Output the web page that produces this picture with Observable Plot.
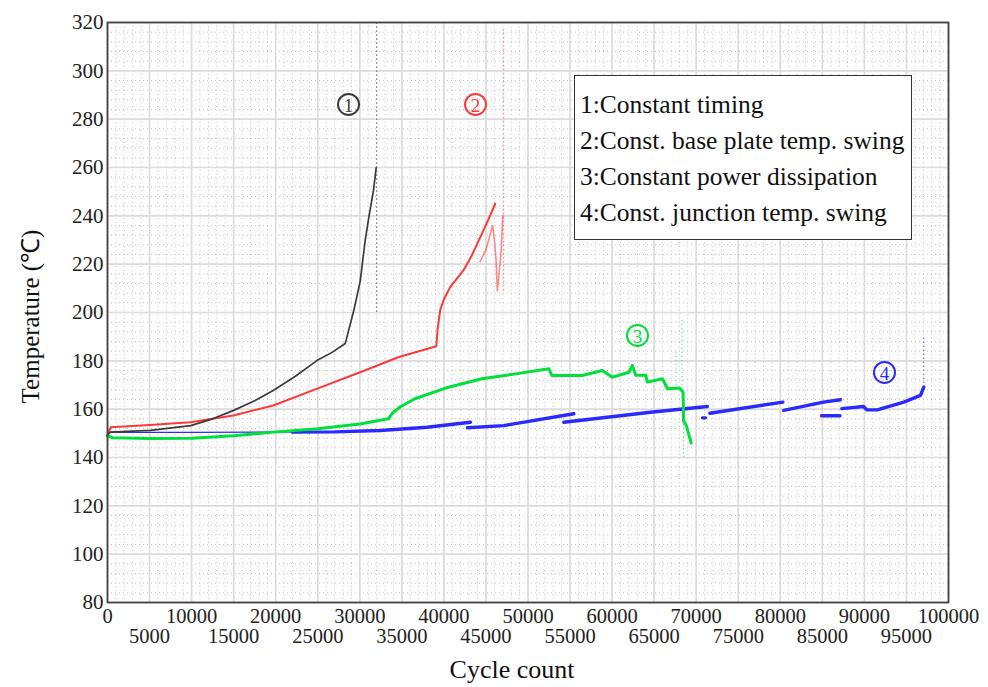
<!DOCTYPE html>
<html>
<head>
<meta charset="utf-8">
<script src="https://cdn.jsdelivr.net/npm/d3@7"></script>
<script src="https://cdn.jsdelivr.net/npm/@observablehq/plot@0.6"></script>
<style>
  html, body { margin: 0; padding: 0; background: #fff; }
  #wrap { position: relative; width: 988px; height: 687px; font-family: "Liberation Serif", "Times New Roman", serif; }
  #legend { position: absolute; left: 574px; top: 75px; width: 338px; height: 165px; box-sizing: border-box;
            border: 1.5px solid #333; background: #fff; font-size: 25.5px; color: #111; }
  #legend div { position: absolute; left: 5px; white-space: nowrap; line-height: 28px; }
</style>
</head>
<body>
<div id="wrap">
  <div id="chart"></div>
  <div id="legend"></div>
</div>
<script>
// ---- data ----
// series 1: constant timing  [cycle, temperature]
const series1 = [[0,149.5],[360,150.5],[5100,151.2],[9900,153.2],[12500,156],[15000,159.5],[17500,163.5],[19700,167.7],[22300,173.5],[24900,180.1],[26700,183.5],[28270,187.2],[28470,189.8],[29300,201],[30050,213],[30640,229.8],[31150,241],[31630,250.5],[31950,260]];
// series 2: const. base plate temp. swing
const series2 = [[0,149],[360,152.5],[5000,153.4],[9860,154.6],[14960,157.4],[19710,161.5],[24940,168.5],[30050,175.3],[34560,181.5],[39100,186],[39250,193],[39550,200.8],[40000,205.5],[40740,210.5],[42320,217.4],[43300,223.5],[44330,231.2],[45300,238.5],[46100,245]];
const series2Tail = [[44300,221],[45000,226],[45800,236],[46000,230],[46200,222],[46350,209],[46500,214],[46800,225],[47000,240]];
// series 3: constant power dissipation
const series3 = [[0,149],[600,148.2],[5000,147.9],[10000,148],[15000,149],[19700,150.5],[25000,151.9],[30000,153.9],[33400,156],[33850,158.3],[34840,161],[36550,164.3],[40540,169.1],[44510,172.6],[48490,174.6],[52470,176.7],[52860,173.9],[56440,173.9],[58830,176],[60020,173.2],[62010,175.3],[62410,178.1],[62800,174],[64000,174],[64200,171.2],[65990,172.6],[66590,168.4],[68000,168.8],[68440,167],[68500,155],[68800,153.5],[69240,148],[69400,146]];
// series 4: const. junction temp. swing  [cycle, temperature, segment]
const series4Start = [[0,150.4],[10000,150.4],[25000,150.6]];
const series4 = [
  [22000,150.5,"a"],[27000,150.6,"a"],[32460,151.2,"a"],[38000,152.5,"a"],[43160,154.6,"a"],
  [42800,152.3,"b"],[47120,153.2,"b"],[55450,158.1,"b"],
  [54260,154.6,"c"],[64570,158.7,"c"],[71340,161.1,"c"],
  [70750,156.4,"d"],[71100,156.4,"d"],
  [71620,158.3,"e"],[80310,162.9,"e"],
  [80400,159.5,"f"],[85140,162.9,"f"],[87140,163.9,"f"],
  [84900,157.3,"g"],[87100,157.3,"g"],
  [87320,160.2,"h"],[89890,161.1,"h"],[90290,159.7,"h"],[91520,159.7,"h"],[94690,162.9,"h"],[96670,165.7,"h"],[97060,169.1,"h"]
];
// faint vertical scatter traces at failure  [cycle, from, to, series]
const traceCycles = [32000, 47100, 67600, 68300, 68500, 97060];
const traceFrom   = [200, 209, 168, 168, 157, 169];
const traceTo     = [320, 318, 184, 197, 140, 190];
const traceSeries = [1, 2, 3, 3, 3, 4];
// circled series markers
const markerCycles = [28660, 43760, 63020, 92390];
const markerTemps  = [286.1, 286.1, 190.5, 175.2];
const markerText   = ["1", "2", "3", "4"];
const colors = {1: "#3a3a3a", 2: "#ff3838", 3: "#00e03a", 4: "#2a2aff"};
const legendLabels = ["1:Constant timing", "2:Const. base plate temp. swing", "3:Constant power dissipation", "4:Const. junction temp. swing"];
// ticks
const xTicksTop = d3.range(0, 100001, 10000);
const xTicksBottom = d3.range(5000, 100000, 10000);
const yTicks = d3.range(80, 321, 20);

// ---- build ----
const traces = traceCycles.map((c, i) => ({c, y1: traceFrom[i], y2: traceTo[i], s: traceSeries[i]}));
const markers = markerCycles.map((c, i) => ({c, t: markerTemps[i], n: markerText[i], s: i + 1}));
const X = d => d[0], Y = d => d[1];

const chart = Plot.plot({
  width: 988,
  height: 687,
  marginLeft: 107,
  marginRight: 40,
  marginTop: 22,
  marginBottom: 85,
  x: {domain: [0, 100000]},
  y: {domain: [80, 320]},
  style: {fontFamily: "'Liberation Serif', 'Times New Roman', serif", fontSize: "21px", color: "#222", background: "#fff"},
  marks: [
    Plot.gridX(d3.range(0, 100001, 1000), {stroke: "#c4c4c4", strokeOpacity: 1, strokeWidth: 1, strokeDasharray: "1,3"}),
    Plot.gridY(d3.range(80, 321, 4), {stroke: "#c4c4c4", strokeOpacity: 1, strokeWidth: 1, strokeDasharray: "1,3"}),
    Plot.gridX(d3.range(0, 100001, 5000), {stroke: "#dcdcdc", strokeOpacity: 1, strokeWidth: 1.7}),
    Plot.gridY(yTicks, {stroke: "#dcdcdc", strokeOpacity: 1, strokeWidth: 1.7}),
    Plot.ruleX(traces, {x: "c", y1: "y1", y2: "y2", stroke: d => colors[d.s], strokeWidth: 1.2, strokeDasharray: "1.5,2.5", strokeOpacity: 0.6}),
    Plot.line(series2Tail, {x: X, y: Y, stroke: colors[2], strokeWidth: 1.6, strokeOpacity: 0.6}),
    Plot.line(series4Start, {x: X, y: Y, stroke: colors[4], strokeWidth: 1.4}),
    Plot.line(series4, {x: X, y: Y, z: d => d[2], stroke: colors[4], strokeWidth: 3.4}),
    Plot.line(series3, {x: X, y: Y, stroke: colors[3], strokeWidth: 3}),
    Plot.line(series2, {x: X, y: Y, stroke: colors[2], strokeWidth: 2}),
    Plot.line(series1, {x: X, y: Y, stroke: colors[1], strokeWidth: 1.7}),
    Plot.dot(markers, {x: "c", y: "t", r: 10.5, stroke: d => colors[d.s], strokeWidth: 2, fill: "none"}),
    Plot.text(markers, {x: "c", y: "t", text: "n", fill: d => colors[d.s], fontSize: 19, dy: 1}),
    Plot.frame({stroke: "#444", strokeWidth: 1.8}),
    Plot.axisY({ticks: yTicks, tickSize: 0, tickPadding: 4, label: null, fontSize: 21, tickFormat: "d"}),
    Plot.axisX({ticks: xTicksTop, tickSize: 0, tickPadding: 6, label: null, fontSize: 20.5, tickFormat: "d"}),
    Plot.axisX({ticks: xTicksBottom, tickSize: 0, tickPadding: 26, label: null, fontSize: 20.5, tickFormat: "d"}),
    Plot.text(["Temperature (℃)"], {frameAnchor: "left", textAnchor: "middle", lineAnchor: "middle", dx: -77, dy: 4, rotate: -90, fontSize: 25, fill: "#111"}),
    Plot.text(["Cycle count"], {frameAnchor: "bottom", textAnchor: "middle", lineAnchor: "middle", dx: -16, dy: 67, fontSize: 26, fill: "#111"})
  ]
});
document.getElementById("chart").appendChild(chart);

const legend = document.getElementById("legend");
legendLabels.forEach((t, i) => {
  const d = document.createElement("div");
  d.textContent = t;
  d.style.top = (15 + i * 36) + "px";
  legend.appendChild(d);
});
</script>
</body>
</html>
